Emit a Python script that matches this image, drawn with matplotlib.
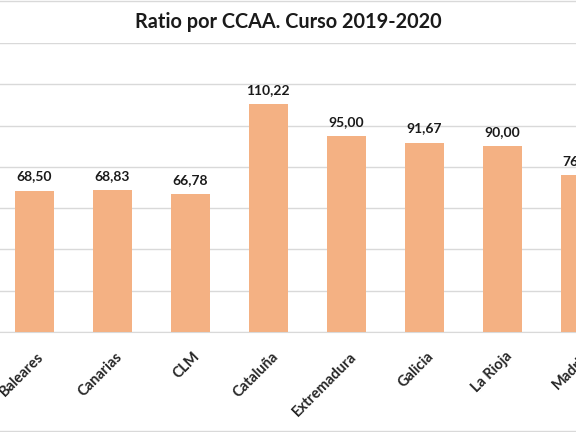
import matplotlib
matplotlib.use('Agg')
import matplotlib.pyplot as plt
from matplotlib.lines import Line2D
from matplotlib.transforms import ScaledTranslation

# datos visibles en el recorte del grafico
ccaa = ['Baleares', 'Canarias', 'CLM', 'Cataluña', 'Extremadura',
        'Galicia', 'La Rioja', 'Madrid']
ratio = [68.50, 68.83, 66.78, 110.22, 95.00, 91.67, 90.00, 76.00]
yticks = [0, 20, 40, 60, 80, 100, 120, 140]

bar_color = '#F4B183'
grid_color = '#D9D9D9'
plt.rcParams['font.family'] = ['Lato', 'DejaVu Sans']

fig = plt.figure(figsize=(5.76, 4.32), dpi=100)
W, H = 576, 432
# the plot area runs past the left/right edges (cropped screenshot)
x0, x1 = -5, 619
ax = fig.add_axes([x0 / W, 1 - 332 / H, (x1 - x0) / W, (332 - 43) / H])

xs = list(range(len(ccaa)))
ax.bar(xs, ratio, width=0.5, color=bar_color, edgecolor='none', zorder=3)
for x, v in zip(xs, ratio):
    ax.text(x, v + 4, '{:.2f}'.format(v).replace('.', ','), ha='center', va='bottom',
            fontsize=10, fontweight='bold', color='#1a1a1a')

ax.set_xlim(-0.5, len(ccaa) - 0.5)
ax.set_ylim(0, 140)
ax.set_yticks(yticks)
ax.yaxis.grid(True, color=grid_color, linewidth=1)
ax.tick_params(left=False, labelleft=False, bottom=False)
for s in ['top', 'left', 'right']:
    ax.spines[s].set_visible(False)
ax.spines['bottom'].set_color(grid_color)

ax.set_xticks(xs)
ax.set_xticklabels(ccaa, rotation=45, ha='right', rotation_mode='anchor',
                   fontsize=10.5, fontweight='bold', color='#262626')
ax.tick_params(axis='x', pad=9)
for lab in ax.get_xticklabels():
    lab.set_transform(lab.get_transform() + ScaledTranslation(0.03, 0, fig.dpi_scale_trans))

fig.text(0.5, 1 - 22 / H, 'Ratio por CCAA. Curso 2019-2020', ha='center', va='center',
         fontsize=14.3, fontweight='bold', color='#1a1a1a')

# chart border (only top/bottom visible)
fig.add_artist(Line2D([0, 1], [1 - 1 / H, 1 - 1 / H], color=grid_color, lw=1))
fig.add_artist(Line2D([0, 1], [1 - 431 / H, 1 - 431 / H], color=grid_color, lw=1))

fig.savefig('out.png', dpi=100)
